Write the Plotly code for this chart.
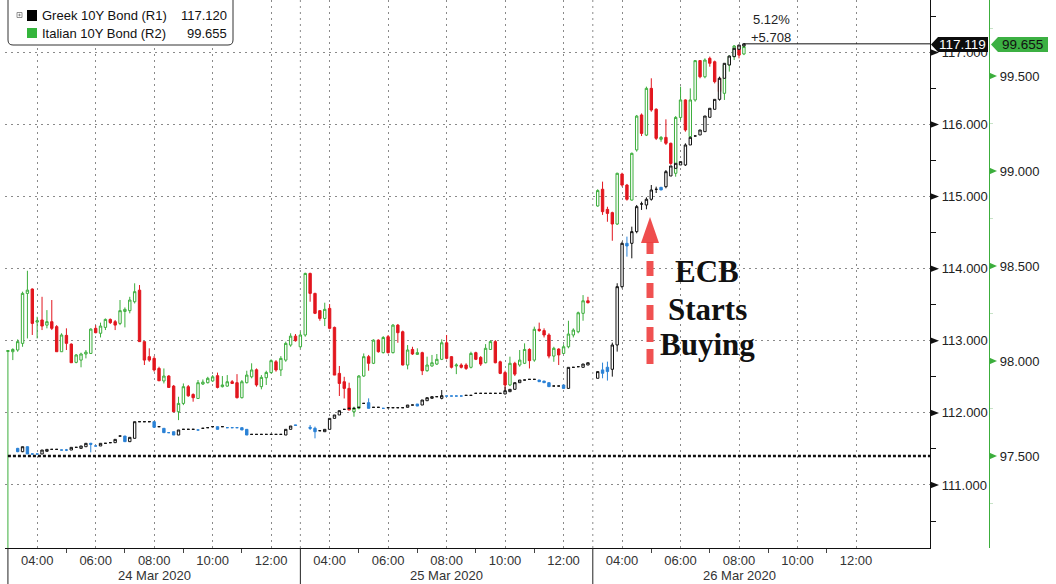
import plotly.graph_objects as go

# ------------------------------------------------------------------ data
DAY_LABELS = ["24 Mar 2020", "25 Mar 2020", "26 Mar 2020"]
BARS_PER_DAY = [61, 59, 31]
FIRST_BAR = ["03:00", "03:10", "03:10"]
BAR_MINUTES = 10
SESSION_START_HOUR = 3
SESSION_HOURS = 10
TIME_TICKS = ["04:00", "06:00", "08:00", "10:00", "12:00"]
MINOR_TIME_TICKS = ["05:00", "07:00", "09:00", "11:00"]

# Italian 10Y Bond (R2) 10-minute candles
ITA_OPEN = [
    98.050, 98.049, 98.058, 98.093, 98.356, 98.379, 98.205, 98.216, 98.189, 98.207,
    98.181, 98.049, 98.135, 98.089, 97.993, 98.005, 98.037, 98.040, 98.172, 98.146,
    98.177, 98.219, 98.207, 98.198, 98.261, 98.265, 98.312, 98.373, 98.102, 98.023,
    98.014, 97.961, 97.895, 97.921, 97.868, 97.733, 97.777, 97.865, 97.824, 97.803,
    97.879, 97.886, 97.895, 97.923, 97.865, 97.868, 97.891, 97.886, 97.807, 97.886,
    97.917, 97.954, 97.865, 97.912, 97.939, 97.996, 97.953, 98.005, 98.084, 98.131,
    98.075,
    98.137, 98.461, 98.356, 98.265, 98.224, 98.277, 98.177, 97.935, 97.891, 97.856,
    97.733, 97.751, 97.921, 98.023, 97.988, 98.110, 98.044, 98.128, 98.044, 98.189,
    98.154, 97.979, 98.061, 98.035, 98.044, 97.949, 97.974, 97.984, 98.009, 98.096,
    98.023, 97.974, 97.979, 97.979, 97.967, 98.044, 98.019, 97.991, 98.061, 98.102,
    97.996, 97.939, 97.874, 97.988, 97.979, 97.988, 98.061, 98.005, 98.167, 98.160,
    98.137, 98.026, 98.063, 98.040, 98.075, 98.137, 98.154, 98.251, 98.317,
    98.816, 98.904, 98.798, 98.781, 98.721, 98.984, 98.926, 98.847, 99.111, 99.295,
    99.189, 99.435, 99.325, 99.167, 99.177, 99.146, 98.988, 99.282, 99.374, 99.181,
    99.374, 99.581, 99.496, 99.593, 99.575, 99.488, 99.409, 99.558, 99.602, 99.658,
    99.616,
]
ITA_HIGH = [
    98.058, 98.067, 98.114, 98.365, 98.475, 98.382, 98.233, 98.338, 98.268, 98.321,
    98.189, 98.146, 98.172, 98.093, 98.037, 98.044, 98.058, 98.172, 98.189, 98.202,
    98.224, 98.224, 98.216, 98.321, 98.282, 98.338, 98.409, 98.400, 98.102, 98.067,
    98.026, 97.970, 97.961, 97.926, 97.874, 97.812, 97.882, 97.874, 97.830, 97.900,
    97.903, 97.917, 97.926, 97.939, 97.921, 97.926, 97.900, 97.931, 97.900, 97.949,
    97.988, 97.961, 97.926, 97.949, 98.009, 98.005, 98.026, 98.102, 98.146, 98.142,
    98.154,
    98.465, 98.465, 98.359, 98.268, 98.307, 98.300, 98.181, 97.974, 97.917, 97.886,
    97.760, 97.926, 98.040, 98.032, 98.114, 98.114, 98.131, 98.137, 98.195, 98.195,
    98.160, 98.084, 98.075, 98.067, 98.049, 98.023, 98.032, 98.037, 98.114, 98.137,
    98.026, 97.988, 97.988, 97.988, 98.049, 98.049, 98.026, 98.089, 98.110, 98.110,
    98.002, 97.949, 98.023, 97.996, 98.058, 98.093, 98.067, 98.181, 98.202, 98.172,
    98.146, 98.075, 98.067, 98.088, 98.212, 98.172, 98.260, 98.347, 98.338,
    98.904, 98.944, 98.812, 98.786, 98.991, 98.991, 98.932, 99.097, 99.295, 99.303,
    99.444, 99.488, 99.330, 99.184, 99.272, 99.149, 99.289, 99.444, 99.377, 99.435,
    99.584, 99.584, 99.593, 99.602, 99.581, 99.493, 99.567, 99.610, 99.663, 99.663,
    99.672,
]
ITA_LOW = [
    96.900, 98.005, 98.049, 98.075, 98.119, 98.137, 98.119, 98.163, 98.172, 98.163,
    98.049, 98.049, 98.058, 97.991, 97.988, 97.967, 98.014, 98.037, 98.146, 98.124,
    98.163, 98.195, 98.163, 98.189, 98.177, 98.251, 98.303, 98.102, 97.979, 97.996,
    97.944, 97.895, 97.882, 97.861, 97.733, 97.689, 97.768, 97.812, 97.786, 97.803,
    97.874, 97.882, 97.891, 97.856, 97.861, 97.865, 97.879, 97.803, 97.803, 97.882,
    97.909, 97.865, 97.851, 97.874, 97.935, 97.944, 97.921, 97.996, 98.075, 98.102,
    98.067,
    98.128, 98.312, 98.247, 98.212, 98.184, 98.167, 97.926, 97.816, 97.803, 97.742,
    97.707, 97.746, 97.917, 97.949, 97.984, 98.044, 98.040, 98.040, 98.040, 98.096,
    97.977, 97.956, 98.032, 98.032, 97.926, 97.944, 97.970, 97.979, 98.005, 98.009,
    97.961, 97.931, 97.961, 97.953, 97.961, 98.005, 97.974, 97.988, 98.058, 97.988,
    97.931, 97.847, 97.868, 97.921, 97.970, 97.984, 97.961, 97.996, 98.154, 98.124,
    98.014, 97.996, 97.979, 98.037, 98.067, 98.124, 98.146, 98.212, 98.303,
    98.812, 98.769, 98.733, 98.633, 98.716, 98.918, 98.844, 98.844, 99.102, 99.184,
    99.184, 99.312, 99.163, 99.154, 99.137, 99.032, 98.970, 99.268, 99.207, 99.172,
    99.365, 99.488, 99.488, 99.549, 99.461, 99.409, 99.374, 99.523, 99.584, 99.593,
    99.610,
]
ITA_CLOSE = [
    98.055, 98.061, 98.102, 98.356, 98.373, 98.198, 98.212, 98.184, 98.207, 98.172,
    98.049, 98.137, 98.093, 97.991, 98.032, 98.037, 98.047, 98.168, 98.149, 98.184,
    98.219, 98.202, 98.189, 98.265, 98.272, 98.321, 98.365, 98.102, 98.005, 98.005,
    97.953, 97.896, 97.921, 97.861, 97.733, 97.777, 97.865, 97.817, 97.807, 97.886,
    97.889, 97.909, 97.917, 97.861, 97.874, 97.891, 97.882, 97.807, 97.891, 97.926,
    97.953, 97.874, 97.914, 97.940, 98.002, 97.953, 98.014, 98.093, 98.131, 98.107,
    98.137,
    98.461, 98.356, 98.251, 98.224, 98.272, 98.172, 97.926, 97.882, 97.856, 97.742,
    97.751, 97.921, 98.023, 97.988, 98.110, 98.049, 98.124, 98.044, 98.189, 98.149,
    97.979, 98.058, 98.037, 98.044, 97.949, 97.979, 97.991, 98.009, 98.096, 98.014,
    97.967, 97.979, 97.967, 97.961, 98.040, 98.009, 97.984, 98.067, 98.102, 97.991,
    97.935, 97.874, 97.988, 97.931, 98.005, 98.061, 98.002, 98.167, 98.160, 98.137,
    98.026, 98.067, 98.032, 98.075, 98.142, 98.163, 98.254, 98.317, 98.307,
    98.897, 98.786, 98.777, 98.721, 98.988, 98.926, 98.851, 99.093, 99.289, 99.198,
    99.435, 99.321, 99.172, 99.177, 99.146, 99.040, 99.282, 99.374, 99.216, 99.374,
    99.581, 99.496, 99.584, 99.567, 99.470, 99.418, 99.558, 99.602, 99.658, 99.610,
    99.655,
]

# Greek 10Y Bond (R1) 10-minute candles (None = no trade in that bar)
GR_OPEN = [
    None, None, 111.508, 111.462, 111.531, 111.430, 111.430, 111.430, 111.467, 111.494,
    111.494, 111.485, 111.485, 111.485, 111.522, 111.508, 111.531, 111.578, 111.541, 111.541,
    111.578, 111.587, 111.587, 111.679, 111.679, 111.601, 111.647, 111.878, 111.878, 111.878,
    111.878, 111.809, 111.786, 111.726, 111.739, 111.693, 111.772, 111.772, 111.772, 111.763,
    111.786, 111.795, 111.809, 111.809, 111.809, 111.795, 111.795, 111.795, 111.795, 111.772,
    111.702, 111.702, 111.702, 111.702, 111.702, 111.702, 111.702, 111.693, 111.772, 111.832,
    None,
    None, 111.800, 111.786, 111.753, 111.739, 111.772, 111.924, 111.971, 112.049, 112.063,
    112.063, 112.077, 112.132, 112.142, 112.077, 112.077, 112.063, 112.072, 112.072, 112.072,
    112.072, 112.077, 112.109, 112.123, 112.109, 112.169, 112.202, 112.225, 112.202, 112.234,
    112.234, 112.234, 112.234, 112.243, 112.243, 112.271, 112.271, 112.271, 112.271, 112.271,
    112.271, 112.262, 112.294, 112.327, 112.419, 112.456, 112.465, 112.465, 112.456, 112.442,
    112.419, 112.373, 112.373, 112.387, 112.340, 112.632, 112.641, 112.632, 112.664,
    112.480, 112.596, 112.633, 112.605, 112.942, 113.751, 114.352, 114.352, 114.514, 114.898,
    114.884, 114.963, 115.101, 115.129, 115.138, 115.286, 115.392, 115.439, 115.439, 115.716,
    115.841, 115.855, 115.901, 116.100, 116.211, 116.349, 116.641, 116.826, 116.941, 117.043,
    117.089,
]
GR_HIGH = [
    None, None, 111.515, 111.531, 111.535, 111.435, 111.430, 111.485, 111.494, 111.494,
    111.494, 111.485, 111.500, 111.522, 111.522, 111.541, 111.578, 111.585, 111.541, 111.578,
    111.578, 111.587, 111.633, 111.679, 111.679, 111.661, 111.878, 111.878, 111.878, 111.878,
    111.878, 111.809, 111.786, 111.726, 111.739, 111.763, 111.772, 111.772, 111.772, 111.763,
    111.786, 111.795, 111.809, 111.809, 111.809, 111.795, 111.795, 111.795, 111.795, 111.772,
    111.702, 111.702, 111.702, 111.702, 111.702, 111.702, 111.702, 111.772, 111.818, 111.832,
    None,
    None, 111.832, 111.809, 111.753, 111.772, 111.924, 111.971, 112.031, 112.049, 112.063,
    112.063, 112.077, 112.132, 112.202, 112.077, 112.077, 112.063, 112.072, 112.072, 112.072,
    112.072, 112.109, 112.109, 112.123, 112.179, 112.211, 112.225, 112.225, 112.317, 112.234,
    112.234, 112.234, 112.234, 112.243, 112.243, 112.271, 112.271, 112.271, 112.271, 112.271,
    112.271, 112.364, 112.327, 112.419, 112.456, 112.456, 112.465, 112.465, 112.456, 112.442,
    112.419, 112.373, 112.373, 112.387, 112.632, 112.632, 112.641, 112.678, 112.696,
    112.573, 112.697, 112.711, 112.975, 113.798, 114.375, 114.445, 114.583, 114.884, 114.930,
    114.990, 115.161, 115.138, 115.129, 115.369, 115.425, 115.462, 115.485, 115.739, 115.822,
    115.841, 115.924, 116.118, 116.225, 116.349, 116.664, 116.849, 116.950, 117.057, 117.103,
    117.126,
]
GR_LOW = [
    None, None, 111.455, 111.455, 111.430, 111.425, 111.430, 111.430, 111.467, 111.494,
    111.494, 111.485, 111.470, 111.485, 111.522, 111.508, 111.531, 111.453, 111.541, 111.541,
    111.578, 111.587, 111.587, 111.679, 111.601, 111.601, 111.647, 111.878, 111.878, 111.878,
    111.800, 111.809, 111.726, 111.726, 111.693, 111.693, 111.772, 111.772, 111.772, 111.763,
    111.786, 111.795, 111.809, 111.772, 111.809, 111.795, 111.795, 111.795, 111.763, 111.693,
    111.702, 111.702, 111.702, 111.702, 111.702, 111.702, 111.702, 111.693, 111.772, 111.828,
    None,
    None, 111.763, 111.647, 111.753, 111.739, 111.772, 111.924, 111.971, 112.049, 112.063,
    112.063, 112.077, 112.132, 112.063, 112.077, 112.077, 112.063, 112.072, 112.072, 112.072,
    112.072, 112.077, 112.109, 112.095, 112.109, 112.169, 112.202, 112.225, 112.188, 112.234,
    112.234, 112.234, 112.234, 112.243, 112.243, 112.271, 112.271, 112.271, 112.271, 112.271,
    112.271, 112.262, 112.294, 112.327, 112.419, 112.456, 112.465, 112.465, 112.433, 112.419,
    112.364, 112.373, 112.373, 112.340, 112.340, 112.632, 112.641, 112.632, 112.664,
    112.480, 112.480, 112.448, 112.503, 112.850, 113.728, 114.167, 114.144, 114.491, 114.815,
    114.824, 114.944, 115.050, 115.092, 115.115, 115.286, 115.392, 115.439, 115.425, 115.716,
    115.841, 115.855, 115.901, 116.100, 116.211, 116.331, 116.641, 116.826, 116.941, 117.043,
    117.089,
]
GR_CLOSE = [
    None, None, 111.462, 111.531, 111.430, 111.430, 111.430, 111.485, 111.494, 111.494,
    111.494, 111.485, 111.485, 111.522, 111.522, 111.541, 111.578, 111.564, 111.541, 111.578,
    111.578, 111.587, 111.633, 111.679, 111.601, 111.661, 111.878, 111.878, 111.878, 111.878,
    111.800, 111.809, 111.726, 111.726, 111.693, 111.763, 111.772, 111.772, 111.772, 111.763,
    111.786, 111.795, 111.809, 111.772, 111.809, 111.795, 111.795, 111.795, 111.763, 111.693,
    111.702, 111.702, 111.702, 111.702, 111.702, 111.702, 111.702, 111.772, 111.818, 111.828,
    None,
    None, 111.786, 111.739, 111.753, 111.772, 111.924, 111.971, 112.031, 112.049, 112.063,
    112.063, 112.077, 112.132, 112.063, 112.077, 112.077, 112.063, 112.072, 112.072, 112.072,
    112.072, 112.109, 112.109, 112.095, 112.179, 112.211, 112.225, 112.225, 112.239, 112.234,
    112.234, 112.234, 112.234, 112.243, 112.243, 112.271, 112.271, 112.271, 112.271, 112.271,
    112.271, 112.308, 112.327, 112.419, 112.456, 112.456, 112.465, 112.465, 112.433, 112.419,
    112.364, 112.373, 112.373, 112.340, 112.632, 112.632, 112.641, 112.678, 112.696,
    112.573, 112.549, 112.573, 112.942, 113.751, 114.352, 114.315, 114.514, 114.861, 114.898,
    114.963, 115.092, 115.101, 115.092, 115.346, 115.425, 115.462, 115.485, 115.716, 115.822,
    115.841, 115.924, 116.118, 116.225, 116.349, 116.641, 116.849, 116.950, 117.057, 117.103,
    117.119,
]

LEGEND_NAMES = ["Greek 10Y Bond (R1)", "Italian 10Y Bond (R2)"]
LEGEND_VALUES = ["117.120", "99.655"]
LAST_LABELS = ["117.119", "99.655"]
CHANGE_TEXT = ["5.12%", "+5.708"]
ANNOTATION_LINES = ["ECB", "Starts", "Buying"]
R1_TICKS = [111, 112, 113, 114, 115, 116, 117]
R2_TICKS = [97.5, 98.0, 98.5, 99.0, 99.5]

# ------------------------------------------------------------------ geometry
FIG_W, FIG_H = 1056, 584
M_L, M_R, M_T, M_B = 5, 0, 0, 36
PLOT_W = FIG_W - M_L - M_R
PLOT_H = FIG_H - M_T - M_B
X_RANGE = [-0.1, 31.53]
R1_RANGE = [110.126, 117.727]
R2_RANGE = [97.016, 99.9]
X_DOMAIN_END = (930 - M_L) / PLOT_W
R2_POS = (989 - M_L) / PLOT_W

FONT = "Liberation Sans, Arial, sans-serif"
GREEN = "#3cae3c"
RED = "#e2161e"
BLUE = "#2b82d6"


def xp(pix):
    return (pix - M_L) / PLOT_W


def yp(pix):
    return (M_T + PLOT_H - pix) / PLOT_H


def session_x(day, hhmm):
    h, m = map(int, hhmm.split(":"))
    return day * SESSION_HOURS + (h - SESSION_START_HOUR) + m / 60.0


def x_to_paper(v):
    return X_DOMAIN_END * (v - X_RANGE[0]) / (X_RANGE[1] - X_RANGE[0])


def r1_to_paper(v):
    return (v - R1_RANGE[0]) / (R1_RANGE[1] - R1_RANGE[0])


def r2_to_paper(v):
    return (v - R2_RANGE[0]) / (R2_RANGE[1] - R2_RANGE[0])


def label(text, x, y, size=13, color="#222", xanchor="center", family=FONT):
    return dict(text=text, xref="paper", yref="paper", x=x, y=y, xanchor=xanchor, yanchor="middle",
                showarrow=False, font=dict(family=family, size=size, color=color))


# bar positions on a gap-free session axis
X = []
for d, (n, first) in enumerate(zip(BARS_PER_DAY, FIRST_BAR)):
    x0 = session_x(d, first)
    X += [x0 + i * BAR_MINUTES / 60.0 for i in range(n)]

gx, go_, gh, gl, gc = [], [], [], [], []
for i, o in enumerate(GR_OPEN):
    if o is None:
        continue
    gx.append(X[i]); go_.append(o); gh.append(GR_HIGH[i]); gl.append(GR_LOW[i]); gc.append(GR_CLOSE[i])

fig = go.Figure()
fig.add_trace(go.Candlestick(
    x=X, open=ITA_OPEN, high=ITA_HIGH, low=ITA_LOW, close=ITA_CLOSE,
    yaxis="y", name=LEGEND_NAMES[1], hoverinfo="skip",
    increasing=dict(line=dict(color=GREEN, width=1), fillcolor="white"),
    decreasing=dict(line=dict(color=RED, width=1), fillcolor=RED),
    whiskerwidth=0,
))
fig.add_trace(go.Candlestick(
    x=gx, open=go_, high=gh, low=gl, close=gc,
    yaxis="y2", name=LEGEND_NAMES[0], hoverinfo="skip",
    increasing=dict(line=dict(color="#111111", width=1), fillcolor="white"),
    decreasing=dict(line=dict(color=BLUE, width=1), fillcolor=BLUE),
    whiskerwidth=0,
))

# x ticks
tickvals, ticktext, minorvals = [], [], []
for d in range(len(DAY_LABELS)):
    for t in TIME_TICKS:
        tickvals.append(session_x(d, t)); ticktext.append(t)
    for t in MINOR_TIME_TICKS:
        minorvals.append(session_x(d, t))

shapes = []
annotations = []

# day separators (dotted in plot, solid in axis band)
for d in range(len(DAY_LABELS)):
    xv = x_to_paper(d * SESSION_HOURS)
    if d > 0:
        shapes.append(dict(type="line", xref="paper", yref="paper", x0=xv, x1=xv, y0=0, y1=1,
                           line=dict(color="#8a8a8a", width=1, dash="2px,4px"), layer="below"))
    shapes.append(dict(type="line", xref="paper", yref="paper", x0=xv, x1=xv, y0=yp(584), y1=0,
                       line=dict(color="#222", width=1)))
    annotations.append(label(DAY_LABELS[d], x_to_paper(session_x(d, "08:00")), yp(575), color="#333"))

# heavy dotted reference line
yref_line = r2_to_paper(97.5)
shapes.append(dict(type="line", xref="paper", yref="paper", x0=x_to_paper(0), x1=X_DOMAIN_END,
                   y0=yref_line, y1=yref_line, line=dict(color="#111", width=2.5, dash="3px,2px")))

# last price line
y_last = r1_to_paper(GR_CLOSE[-1])
shapes.append(dict(type="line", xref="paper", yref="paper", x0=x_to_paper(gx[-1]), x1=X_DOMAIN_END,
                   y0=y_last, y1=y_last, line=dict(color="#111", width=1)))

# tick arrows
for v in R1_TICKS:
    yc = r1_to_paper(v); dy = 3.5 / PLOT_H
    shapes.append(dict(type="path", xref="paper", yref="paper",
                       path=f"M {xp(930)},{yc-dy} L {xp(939)},{yc} L {xp(930)},{yc+dy} Z",
                       fillcolor="#111", line=dict(width=0)))
for v in R2_TICKS:
    yc = r2_to_paper(v); dy = 3.5 / PLOT_H
    shapes.append(dict(type="path", xref="paper", yref="paper",
                       path=f"M {xp(989)},{yc-dy} L {xp(997)},{yc} L {xp(989)},{yc+dy} Z",
                       fillcolor=GREEN, line=dict(width=0)))


# last value tags
def tag(x_left, x_right, y_pix, fill):
    t, b = y_pix - 7.5, y_pix + 7.5
    return dict(type="path", xref="paper", yref="paper",
                path=(f"M {xp(x_left)},{yp(y_pix)} L {xp(x_left+7)},{yp(t)} L {xp(x_right)},{yp(t)} "
                      f"L {xp(x_right)},{yp(b)} L {xp(x_left+7)},{yp(b)} Z"),
                fillcolor=fill, line=dict(width=0))


shapes.append(tag(931, 988, 44.5, "#0d0d0d"))
shapes.append(tag(991, 1048, 44.5, "#3cb043"))
annotations.append(label(LAST_LABELS[0], xp(962), yp(44.5), size=13.5, color="white"))
annotations.append(label(LAST_LABELS[1], xp(1022), yp(44.5), size=13.5, color="#111"))

annotations.append(label(CHANGE_TEXT[0], xp(751), yp(20), xanchor="left"))
annotations.append(label(CHANGE_TEXT[1], xp(749), yp(37), xanchor="left"))

# legend box
lx0, lx1, ly0, ly1, r = 8, 233, -2, 45, 5
shapes.append(dict(type="path", xref="paper", yref="paper",
                   path=(f"M {xp(lx0)},{yp(ly0)} L {xp(lx0)},{yp(ly1-r)} Q {xp(lx0)},{yp(ly1)} {xp(lx0+r)},{yp(ly1)} "
                         f"L {xp(lx1-r)},{yp(ly1)} Q {xp(lx1)},{yp(ly1)} {xp(lx1)},{yp(ly1-r)} L {xp(lx1)},{yp(ly0)} Z"),
                   fillcolor="white", line=dict(color="#333", width=1)))
shapes.append(dict(type="rect", xref="paper", yref="paper", x0=xp(27), x1=xp(37), y0=yp(21), y1=yp(10),
                   fillcolor="#000", line=dict(width=0)))
shapes.append(dict(type="rect", xref="paper", yref="paper", x0=xp(27), x1=xp(37), y0=yp(38), y1=yp(28),
                   fillcolor="#34b53c", line=dict(width=0)))
shapes.append(dict(type="rect", xref="paper", yref="paper", x0=xp(17), x1=xp(22), y0=yp(17.5), y1=yp(12.5),
                   fillcolor="white", line=dict(color="#777", width=0.8)))
shapes.append(dict(type="line", xref="paper", yref="paper", x0=xp(18.2), x1=xp(20.8), y0=yp(15), y1=yp(15),
                   line=dict(color="#777", width=0.8)))
shapes.append(dict(type="line", xref="paper", yref="paper", x0=xp(19.5), x1=xp(19.5), y0=yp(13.7), y1=yp(16.3),
                   line=dict(color="#777", width=0.8)))
for k, yy in enumerate([15.5, 33]):
    annotations.append(label(LEGEND_NAMES[k], xp(40), yp(yy), color="#111", xanchor="left"))
    annotations.append(label(LEGEND_VALUES[k], xp(229), yp(yy), color="#111", xanchor="right"))

# ECB arrow + text
shapes.append(dict(type="line", xref="paper", yref="paper", x0=xp(650), x1=xp(650), y0=yp(364), y1=yp(242),
                   line=dict(color="rgba(238,62,62,0.9)", width=7, dash="15px,7px")))
shapes.append(dict(type="path", xref="paper", yref="paper",
                   path=f"M {xp(641)},{yp(243)} L {xp(650)},{yp(217)} L {xp(659)},{yp(243)} Z",
                   fillcolor="rgba(238,62,62,0.92)", line=dict(width=0)))
for txt, yy in zip(ANNOTATION_LINES, [271, 309, 344]):
    annotations.append(label(f"<b>{txt}</b>", xp(707), yp(yy), size=31, color="#111",
                             family="Liberation Serif, Times New Roman, serif"))

fig.update_layout(
    width=FIG_W, height=FIG_H,
    margin=dict(l=M_L, r=M_R, t=M_T, b=M_B, pad=0),
    paper_bgcolor="white", plot_bgcolor="white",
    showlegend=False, hovermode=False,
    font=dict(family=FONT, size=13, color="#333"),
    xaxis=dict(
        domain=[0, X_DOMAIN_END], range=X_RANGE, rangeslider=dict(visible=False),
        tickmode="array", tickvals=tickvals, ticktext=ticktext, ticks="",
        showgrid=True, gridcolor="#8a8a8a", gridwidth=1, griddash="2px,4px",
        showline=True, linecolor="#111", linewidth=1, zeroline=False,
        tickfont=dict(family=FONT, size=13, color="#333"),
        minor=dict(tickvals=minorvals, ticks="outside", ticklen=4, tickcolor="#444", showgrid=False),
        automargin=False, fixedrange=True,
    ),
    yaxis=dict(
        range=R2_RANGE, anchor="free", position=R2_POS, side="right",
        tickmode="linear", tick0=97.5, dtick=0.5, tickformat=".3f",
        ticks="outside", ticklen=7, tickcolor="rgba(0,0,0,0)",
        showline=True, linecolor=GREEN, linewidth=1.2,
        showgrid=False, zeroline=False,
        tickfont=dict(family=FONT, size=13, color="#222"),
        minor=dict(dtick=0.25, ticks="outside", ticklen=3, tickcolor="#c8e3c8"),
        automargin=False, fixedrange=True,
    ),
    yaxis2=dict(
        range=R1_RANGE, overlaying="y", anchor="x", side="right",
        tickmode="linear", tick0=111, dtick=1, tickformat=".3f",
        ticks="outside", ticklen=8, tickcolor="rgba(0,0,0,0)",
        showline=True, linecolor="#111", linewidth=1.2,
        showgrid=True, gridcolor="#8a8a8a", gridwidth=1, griddash="2px,4px", zeroline=False,
        tickfont=dict(family=FONT, size=13, color="#222"),
        minor=dict(dtick=0.5, ticks="outside", ticklen=5, tickcolor="#111", showgrid=False),
        automargin=False, fixedrange=True,
    ),
    shapes=shapes,
    annotations=annotations,
)

fig.write_html(
    "out.html",
    config={"displayModeBar": False, "staticPlot": True},
    post_script="document.body.style.margin='0';document.body.style.padding='0';document.body.style.overflow='hidden';",
)
